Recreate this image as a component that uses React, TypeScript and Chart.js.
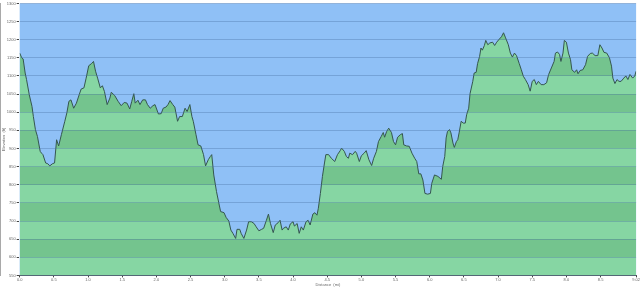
import React, { useEffect, useRef } from "react";
import { Chart, registerables } from "chart.js";

Chart.register(...registerables);

const distances = [
  0.0, 0.03, 0.05, 0.08, 0.1, 0.14, 0.18, 0.2, 0.23, 0.26, 0.3, 0.32, 0.34, 0.38, 0.41, 0.44, 0.48, 0.51, 0.54, 0.57,
  0.61, 0.66, 0.69, 0.72, 0.75, 0.79, 0.83, 0.87, 0.9, 0.94, 0.97, 1.01, 1.05, 1.08, 1.11, 1.14, 1.18, 1.21, 1.24, 1.28,
  1.32, 1.34, 1.39, 1.44, 1.485, 1.53, 1.57, 1.61, 1.64, 1.67, 1.69, 1.73, 1.76, 1.8, 1.84, 1.87, 1.91, 1.95, 1.98, 2.03,
  2.07, 2.1, 2.14, 2.17, 2.2, 2.24, 2.27, 2.31, 2.34, 2.38, 2.42, 2.45, 2.49, 2.52, 2.54, 2.58, 2.61, 2.65, 2.69, 2.72,
  2.76, 2.79, 2.81, 2.84, 2.88, 2.92, 2.94, 2.99, 3.02, 3.06, 3.09, 3.12, 3.16, 3.18, 3.22, 3.24, 3.28, 3.32, 3.35, 3.39,
  3.43, 3.46, 3.5, 3.54, 3.57, 3.61, 3.64, 3.67, 3.71, 3.74, 3.78, 3.81, 3.84, 3.86, 3.9, 3.93, 3.96, 4.0, 4.02, 4.06,
  4.09, 4.12, 4.15, 4.19, 4.22, 4.25, 4.29, 4.32, 4.35, 4.37, 4.4, 4.43, 4.46, 4.48, 4.52, 4.56, 4.61, 4.65, 4.69, 4.71,
  4.75, 4.78, 4.81, 4.83, 4.87, 4.91, 4.93, 4.97, 5.0, 5.04, 5.07, 5.11, 5.15, 5.18, 5.22, 5.25, 5.29, 5.32, 5.34, 5.37,
  5.4, 5.44, 5.47, 5.5, 5.53, 5.57, 5.6, 5.62, 5.66, 5.7, 5.74, 5.78, 5.81, 5.84, 5.87, 5.9, 5.93, 5.97, 6.01, 6.03,
  6.07, 6.12, 6.17, 6.19, 6.22, 6.24, 6.26, 6.29, 6.31, 6.34, 6.36, 6.39, 6.41, 6.43, 6.46, 6.49, 6.52, 6.54, 6.57, 6.59,
  6.63, 6.65, 6.68, 6.7, 6.73, 6.75, 6.77, 6.8, 6.82, 6.85, 6.88, 6.92, 6.95, 6.98, 7.02, 7.05, 7.08, 7.11, 7.15, 7.18,
  7.21, 7.24, 7.27, 7.31, 7.34, 7.37, 7.4, 7.44, 7.47, 7.5, 7.53, 7.56, 7.59, 7.63, 7.67, 7.71, 7.74, 7.78, 7.82, 7.84,
  7.87, 7.9, 7.92, 7.95, 7.97, 8.0, 8.03, 8.06, 8.08, 8.12, 8.15, 8.17, 8.2, 8.24, 8.28, 8.31, 8.35, 8.38, 8.42, 8.46,
  8.49, 8.52, 8.55, 8.59, 8.63, 8.66, 8.68, 8.71, 8.74, 8.77, 8.8, 8.84, 8.87, 8.9, 8.93, 8.97, 9.0, 9.02,
];

const elevations = [
  1163, 1150, 1147, 1108, 1090, 1048, 1016, 988, 952, 933, 892, 887, 883, 860, 858, 852, 858, 860, 924, 907,
  938, 975, 998, 1030, 1034, 1011, 1025, 1048, 1064, 1067, 1092, 1128, 1134, 1140, 1113, 1094, 1067, 1073, 1057, 1021,
  1039, 1055, 1046, 1030, 1018, 1027, 1025, 1009, 1030, 1051, 1025, 1033, 1021, 1034, 1034, 1021, 1011, 1018, 1021, 995,
  996, 1011, 1014, 1021, 1032, 1021, 1014, 975, 988, 988, 1011, 1002, 1021, 988, 975, 938, 910, 907, 883, 852,
  869, 878, 883, 827, 781, 744, 726, 723, 710, 700, 675, 666, 652, 677, 677, 666, 652, 675, 698, 698,
  693, 684, 673, 677, 680, 702, 719, 693, 668, 689, 695, 702, 675, 680, 684, 675, 692, 698, 686, 693,
  666, 684, 675, 698, 702, 689, 719, 723, 716, 735, 776, 823, 860, 883, 883, 873, 864, 883, 894, 901,
  892, 878, 873, 887, 883, 892, 887, 864, 880, 887, 894, 869, 853, 873, 892, 919, 933, 944, 931, 947,
  956, 944, 919, 910, 931, 938, 941, 910, 907, 906, 887, 873, 864, 830, 830, 813, 776, 774, 776, 804,
  827, 823, 815, 850, 878, 929, 947, 952, 943, 915, 903, 919, 924, 943, 975, 970, 970, 993, 1011, 1051,
  1085, 1108, 1110, 1134, 1154, 1177, 1171, 1184, 1198, 1186, 1191, 1193, 1184, 1193, 1202, 1208, 1219, 1205, 1186, 1163,
  1152, 1163, 1156, 1134, 1117, 1099, 1090, 1076, 1058, 1085, 1090, 1076, 1085, 1076, 1076, 1081, 1104, 1122, 1140, 1163,
  1166, 1159, 1140, 1163, 1198, 1193, 1163, 1145, 1117, 1110, 1117, 1106, 1115, 1117, 1131, 1154, 1162, 1163, 1156, 1156,
  1186, 1177, 1165, 1163, 1150, 1127, 1094, 1079, 1090, 1085, 1085, 1094, 1100, 1090, 1104, 1094, 1100, 1113,
];

const xTickValues = [0, 0.5, 1, 1.5, 2, 2.5, 3, 3.5, 4, 4.5, 5, 5.5, 6, 6.5, 7, 7.5, 8, 8.5, 9.02];
const xTickLabels = ["0.0", "0.5", "1.0", "1.5", "2.0", "2.5", "3.0", "3.5", "4.0", "4.5", "5.0", "5.5", "6.0", "6.5", "7.0", "7.5", "8.0", "8.5", "9.02"];
const yTickValues = [550, 600, 650, 700, 750, 800, 850, 900, 950, 1000, 1050, 1100, 1150, 1200, 1250, 1300];

const BLUE = "#8fc0f6";
const GREEN_LIGHT = "#86d6a3";
const GREEN_DARK = "#74c48e";

const bgPlugin = {
  id: "areaBg",
  beforeDraw(chart: any) {
    const { ctx, chartArea } = chart;
    if (!chartArea) return;
    ctx.save();
    ctx.fillStyle = BLUE;
    ctx.fillRect(chartArea.left, chartArea.top, chartArea.right - chartArea.left, chartArea.bottom - chartArea.top);
    ctx.restore();
  },
};

function bandFill(context: any) {
  const chart = context.chart;
  const { ctx, chartArea, scales } = chart;
  if (!chartArea || !scales || !scales.y) return GREEN_LIGHT;
  const y = scales.y;
  const lo = yTickValues[0];
  const hi = yTickValues[yTickValues.length - 1];
  const pBottom = y.getPixelForValue(lo);
  const pTop = y.getPixelForValue(hi);
  const g = ctx.createLinearGradient(0, pBottom, 0, pTop);
  for (let i = 0; i < yTickValues.length - 1; i++) {
    const a = (yTickValues[i] - lo) / (hi - lo);
    const b = (yTickValues[i + 1] - lo) / (hi - lo);
    const c = i % 2 === 0 ? GREEN_LIGHT : GREEN_DARK;
    g.addColorStop(a, c);
    g.addColorStop(b, c);
  }
  return g;
}

export default function App() {
  const ref = useRef<HTMLCanvasElement | null>(null);
  useEffect(() => {
    if (!ref.current) return;
    const font = { family: "'Liberation Sans', Arial, sans-serif", size: 4 };
    const chart = new Chart(ref.current, {
      type: "line",
      data: {
        datasets: [
          {
            data: distances.map((d, i) => ({ x: d, y: elevations[i] })),
            borderColor: "#35564f",
            borderWidth: 1,
            pointRadius: 0,
            tension: 0,
            fill: "start",
            backgroundColor: bandFill,
          },
        ],
      },
      options: {
        animation: false,
        responsive: false,
        maintainAspectRatio: false,
        layout: { padding: { top: 2, right: 0, left: 1, bottom: 0 } },
        plugins: { legend: { display: false }, tooltip: { enabled: false } },
        scales: {
          x: {
            type: "linear",
            min: 0,
            max: 9.02,
            afterBuildTicks: (axis: any) => {
              axis.ticks = xTickValues.map((v) => ({ value: v }));
            },
            ticks: {
              font,
              color: "#666",
              padding: 0,
              maxRotation: 0,
              autoSkip: false,
              callback: (_v: any, i: number) => xTickLabels[i],
            },
            grid: { display: true, drawOnChartArea: false, tickLength: 2, tickColor: "#444" },
            border: { display: true, color: "#555", width: 1 },
            title: { display: true, text: "Distance  (mi)", font, color: "#666", padding: { top: 0, bottom: 0 } },
          },
          y: {
            type: "linear",
            min: 550,
            max: 1300,
            afterBuildTicks: (axis: any) => {
              axis.ticks = yTickValues.map((v) => ({ value: v }));
            },
            ticks: { font, color: "#666", padding: 1, autoSkip: false, callback: (v: any) => String(v) },
            grid: { color: "rgba(70,110,160,0.35)", lineWidth: 1, tickLength: 3, tickColor: "#444", z: 1 },
            border: { display: true, color: "#555", width: 1 },
            title: { display: true, text: "Elevation  (ft)", font, color: "#666", padding: { top: 0, bottom: 0 } },
          },
        },
      },
      plugins: [bgPlugin],
    });
    return () => chart.destroy();
  }, []);
  return (
    <div style={{ position: "fixed", left: 0, top: 0, width: 640, height: 287, background: "#fff" }}>
      <canvas ref={ref} width={640} height={287} style={{ display: "block", width: 640, height: 287 }} />
    </div>
  );
}
